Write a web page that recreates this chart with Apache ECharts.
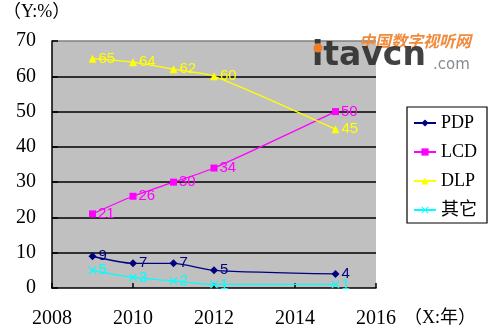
<!DOCTYPE html>
<html>
<head>
<meta charset="utf-8">
<script src="https://cdn.jsdelivr.net/npm/echarts@6/dist/echarts.min.js"></script>
<style>
  html, body { margin: 0; padding: 0; background: #fff; }
  #chart { width: 500px; height: 334px; }
</style>
</head>
<body>
<div id="chart"></div>
<script>
// Display technology market share by year (%)
const years = [2009, 2010, 2011, 2012, 2015];
const seriesNames = ['PDP', 'LCD', 'DLP', '其它'];
const pdp = [9, 7, 7, 5, 4];
const lcd = [21, 26, 30, 34, 50];
const dlp = [65, 64, 62, 60, 45];
const other = [5, 3, 2, 1, 1];
const xTicks = [2008, 2010, 2012, 2014, 2016];
const yTicks = [0, 10, 20, 30, 40, 50, 60, 70];

const serif = 'Liberation Serif, Noto Sans CJK SC, serif';
const sans = 'Liberation Sans, Arial, sans-serif';
const crossPath = 'path://M0,1L1,0L5,4L9,0L10,1L6,5L10,9L9,10L5,6L1,10L0,9L4,5Z';

function pairs(vals) {
  return years.map((y, i) => [y, vals[i]]);
}

function makeSeries(name, vals, color, symbol, size) {
  return {
    name: name,
    type: 'line',
    smooth: 0.25,
    data: pairs(vals),
    symbol: symbol,
    symbolSize: size,
    lineStyle: { color: color, width: 1.3 },
    itemStyle: { color: color, borderWidth: 0 },
    label: {
      show: true,
      position: 'right',
      distance: 2,
      color: color,
      fontFamily: sans,
      fontSize: 15,
      formatter: p => p.value[1]
    },
    emphasis: { disabled: true },
    animation: false
  };
}

const chart = echarts.init(document.getElementById('chart'));
chart.setOption({
  animation: false,
  grid: { left: 52, right: 124, top: 41, bottom: 46, show: true,
          backgroundColor: '#c0c0c0', borderWidth: 0 },
  xAxis: {
    type: 'value',
    min: xTicks[0], max: xTicks[xTicks.length - 1], interval: 2,
    axisLine: { show: true, lineStyle: { color: '#000', width: 1.5 } },
    axisTick: { show: true, inside: true, length: 5, lineStyle: { color: '#000', width: 1.5 } },
    axisLabel: { margin: 21, color: '#000', fontFamily: serif, fontSize: 20,
                 formatter: v => String(v) },
    splitLine: { show: false }
  },
  yAxis: {
    type: 'value',
    min: yTicks[0], max: yTicks[yTicks.length - 1], interval: 10,
    axisLine: { show: true, lineStyle: { color: '#000', width: 1.5 } },
    axisTick: { show: true, inside: true, length: 6, lineStyle: { color: '#000', width: 1.5 } },
    axisLabel: { margin: 16, color: '#000', fontFamily: serif, fontSize: 20 },
    splitLine: {
      show: true,
      lineStyle: {
        width: 1.5,
        color: yTicks.map(v => v === 70 ? '#808080' : (v === 0 ? 'rgba(0,0,0,0)' : '#000'))
      }
    }
  },
  legend: {
    orient: 'vertical',
    left: 407, top: 107,
    padding: [7, 10, 4, 6],
    itemGap: 11,
    itemWidth: 22, itemHeight: 9,
    backgroundColor: '#fff',
    borderColor: '#000', borderWidth: 1.2,
    textStyle: { color: '#000', fontFamily: serif, fontSize: 18 },
    data: seriesNames
  },
  graphic: [
    { type: 'text', left: 3, top: 3,
      style: { text: '（Y:%）', font: '18px ' + serif, fill: '#000' } },
    { type: 'text', left: 404, top: 309,
      style: { text: '（X:年）', font: '18px ' + serif, fill: '#000' } },
    { type: 'text', left: 359, top: 33, z: 100,
      style: { text: '中国数字视听网', font: 'italic bold 16px Noto Sans CJK SC, sans-serif', fill: '#f08a3c' } },
    { type: 'text', left: 312, top: 40, z: 100,
      style: { text: 'itavcn', font: 'bold 33px DejaVu Sans, sans-serif', fill: 'rgba(40,40,40,0.88)' } },
    { type: 'circle', z: 101, shape: { cx: 318, cy: 48, r: 4.5 }, style: { fill: '#f07d2a' } },
    { type: 'text', left: 433, top: 58, z: 100,
      style: { text: '.com', font: '15px DejaVu Sans, sans-serif', fill: '#8a8a8a' } }
  ],
  series: [
    makeSeries(seriesNames[0], pdp, '#000080', 'diamond', 8),
    makeSeries(seriesNames[1], lcd, '#ff00ff', 'rect', 7),
    makeSeries(seriesNames[2], dlp, '#ffff00', 'triangle', 8),
    makeSeries(seriesNames[3], other, '#00ffff', crossPath, 8)
  ]
});
</script>
</body>
</html>
